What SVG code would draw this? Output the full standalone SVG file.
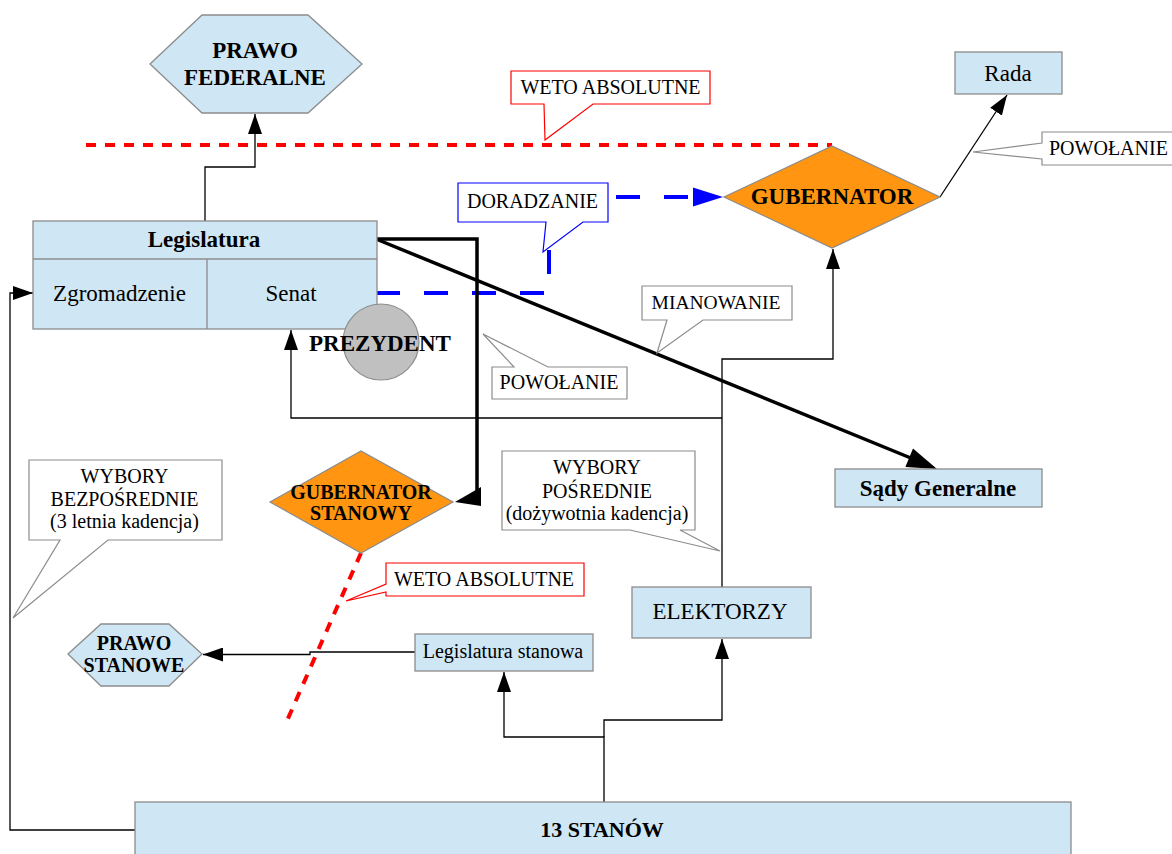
<svg xmlns="http://www.w3.org/2000/svg" width="1172" height="854" viewBox="0 0 1172 854">
  <defs>
    <style>
      .box { fill: #cfe6f4; stroke: #8c8c8c; stroke-width: 1.3; }
      .dia { fill: #ff9511; stroke: #8c8c8c; stroke-width: 1.2; }
      .t { font-family: "Liberation Serif", "Times New Roman", serif; fill: #000; text-anchor: middle; }
      .b { font-weight: bold; }
      .conn { fill: none; stroke: #000; stroke-width: 1.3; }
      .thick { fill: none; stroke: #000; stroke-width: 3.5; }
      .veto { fill: none; stroke: #ff0000; stroke-width: 4; stroke-dasharray: 10 9; }
      .adv { fill: none; stroke: #0000ff; stroke-width: 4; stroke-dasharray: 24 24; }
      .call-gray { fill: #fff; stroke: #8c8c8c; stroke-width: 1.2; }
      .call-red { fill: #fff; stroke: #ff0000; stroke-width: 1.2; }
      .call-blue { fill: #fff; stroke: #0000ff; stroke-width: 1.2; }
    </style>
    <marker id="arr" viewBox="0 0 20 14" refX="20" refY="7" markerWidth="20" markerHeight="14" markerUnits="userSpaceOnUse" orient="auto">
      <path d="M0,0 L20,7 L0,14 z" fill="#000"/>
    </marker>
    <marker id="arrBig" viewBox="0 0 30 20" refX="30" refY="10" markerWidth="30" markerHeight="20" markerUnits="userSpaceOnUse" orient="auto">
      <path d="M0,0 L30,10 L0,20 z" fill="#000"/>
    </marker>
    <marker id="arrBlue" viewBox="0 0 30 19" refX="30" refY="9.5" markerWidth="30" markerHeight="19" markerUnits="userSpaceOnUse" orient="auto">
      <path d="M0,0 L30,9.5 L0,19 z" fill="#0000ff"/>
    </marker>
  </defs>

  <rect width="1172" height="854" fill="#fff"/>

  <!-- veto boundary lines -->
  <g id="veto-lines">
    <line class="veto" x1="86" y1="145" x2="832" y2="145"/>
    <line class="veto" x1="361" y1="553" x2="286" y2="723"/>
  </g>

  <!-- connectors -->
  <g id="connectors">
    <!-- Legislatura -> Prawo federalne -->
    <path class="conn" d="M205,221 V167 H255 V114" marker-end="url(#arr)"/>
    <!-- Gubernator -> Rada -->
    <path class="conn" d="M940,197 L1007,95" marker-end="url(#arr)"/>
    <!-- Senat advising the governor -->
    <path class="adv" d="M376,293 H549 V197 H700"/>
    <path d="M693,187.5 L723,197 L693,206.5 z" fill="#0000ff"/>
    <!-- Legislatura -> Sady Generalne -->
    <path class="thick" d="M376,239 L912,458.5"/>
    <path d="M937,469 L905.4,466.9 L913,448.4 z" fill="#000"/>
    <!-- Legislatura -> Gubernator stanowy -->
    <path class="thick" d="M376,239 H477 V503"/>
    <path d="M455,502 L481,487 L481,506 z" fill="#000"/>
    <!-- Elektorzy -> Gubernator and Senat -->
    <path class="conn" d="M722,587 V359 H833 V249" marker-end="url(#arr)"/>
    <path class="conn" d="M722,418 H291 V330" marker-end="url(#arr)"/>
    <!-- 13 stanow -> Zgromadzenie -->
    <path class="conn" d="M135,830 H10 V293 H33" marker-end="url(#arr)"/>
    <!-- 13 stanow -> Legislatura stanowa / Elektorzy -->
    <path class="conn" d="M604,802 V737 H504 V672" marker-end="url(#arr)"/>
    <path class="conn" d="M604,737 V720 H722 V639" marker-end="url(#arr)"/>
    <!-- Legislatura stanowa -> Prawo stanowe -->
    <path class="conn" d="M415,652 H310 V654.5 H203" marker-end="url(#arr)"/>
  </g>

  <!-- nodes -->
  <g id="prawo-federalne">
    <polygon class="box" points="150,64 202,15 308,15 362,64 308,113 202,113"/>
    <text class="t b" x="255" y="58" font-size="23">PRAWO</text>
    <text class="t b" x="255" y="85" font-size="23">FEDERALNE</text>
  </g>

  <g id="rada">
    <rect class="box" x="955" y="52" width="107" height="42"/>
    <text class="t" x="1008" y="81" font-size="23">Rada</text>
  </g>

  <g id="gubernator">
    <polygon class="dia" points="724,197 832,146 940,197 832,248"/>
    <text class="t b" x="832" y="204" font-size="23">GUBERNATOR</text>
  </g>

  <g id="legislatura">
    <rect class="box" x="33" y="221" width="344" height="108"/>
    <line x1="33" y1="259" x2="377" y2="259" stroke="#8c8c8c" stroke-width="1.3"/>
    <line x1="207" y1="259" x2="207" y2="329" stroke="#8c8c8c" stroke-width="1.3"/>
    <text class="t b" x="204" y="247" font-size="23">Legislatura</text>
    <text class="t" x="119.5" y="301" font-size="23">Zgromadzenie</text>
    <text class="t" x="291" y="301" font-size="23">Senat</text>
  </g>

  <g id="prezydent">
    <circle cx="381" cy="342" r="38" fill="#c0c0c0" stroke="#8c8c8c" stroke-width="1.2"/>
    <text class="t b" x="380" y="351" font-size="23">PREZYDENT</text>
  </g>

  <g id="sady-generalne">
    <rect class="box" x="835" y="469" width="207" height="38"/>
    <text class="t b" x="938" y="496" font-size="23">Sądy Generalne</text>
  </g>

  <g id="gubernator-stanowy">
    <polygon class="dia" points="270,502 361,451 453,502 361,553"/>
    <text class="t b" x="361" y="499" font-size="20">GUBERNATOR</text>
    <text class="t b" x="361" y="520" font-size="20">STANOWY</text>
  </g>

  <g id="prawo-stanowe">
    <polygon class="box" points="68,654 101,624 169,624 202,654 169,686 101,686"/>
    <text class="t b" x="134" y="650" font-size="20">PRAWO</text>
    <text class="t b" x="134" y="672" font-size="20">STANOWE</text>
  </g>

  <g id="legislatura-stanowa">
    <rect class="box" x="415" y="634" width="178" height="37"/>
    <text class="t" x="503" y="658" font-size="20">Legislatura stanowa</text>
  </g>

  <g id="elektorzy">
    <rect class="box" x="632" y="587" width="179" height="51"/>
    <text class="t" x="720" y="619" font-size="23">ELEKTORZY</text>
  </g>

  <g id="stany">
    <rect class="box" x="135" y="802" width="936" height="60"/>
    <text class="t b" x="602" y="837" font-size="22">13 STANÓW</text>
  </g>

  <!-- callout labels -->
  <g id="weto-federalne">
    <path class="call-red" d="M511,71 H710 V104 H593 L545,140 L544,104 H511 Z"/>
    <text class="t" x="610.5" y="94" font-size="20">WETO ABSOLUTNE</text>
  </g>

  <g id="doradzanie">
    <path class="call-blue" d="M458,183 H608 V222 H583 L543,252 L546,222 H458 Z"/>
    <text class="t" x="532.5" y="208" font-size="20">DORADZANIE</text>
  </g>

  <g id="powolanie-rada">
    <path class="call-gray" d="M1042,132 H1180 V165 H1042 V159 L973,152 L1042,143 Z"/>
    <text class="t" x="1049" y="155" font-size="20" text-anchor="start" style="text-anchor:start">POWOŁANIE</text>
  </g>

  <g id="mianowanie">
    <path class="call-gray" d="M642,286 H792 V320 H703 L657,353 L667,320 H642 Z"/>
    <text class="t" x="716" y="309" font-size="19.5">MIANOWANIE</text>
  </g>

  <g id="powolanie-senat">
    <path class="call-gray" d="M492,367 H514 L483,334 L548,367 H627 V399 H492 Z"/>
    <text class="t" x="559" y="389" font-size="20">POWOŁANIE</text>
  </g>

  <g id="wybory-posrednie">
    <path class="call-gray" d="M502,451 H695 V530 H680 L720,551 L630,530 H502 Z"/>
    <text class="t" x="597" y="474" font-size="20">WYBORY</text>
    <text class="t" x="597" y="498" font-size="20">POŚREDNIE</text>
    <text class="t" x="597" y="520" font-size="20">(dożywotnia kadencja)</text>
  </g>

  <g id="wybory-bezposrednie">
    <path class="call-gray" d="M29,460 H222 V540 H108 L13,618 L60,540 H29 Z"/>
    <text class="t" x="124.5" y="483" font-size="20">WYBORY</text>
    <text class="t" x="124.5" y="506" font-size="20">BEZPOŚREDNIE</text>
    <text class="t" x="124.5" y="528" font-size="20">(3 letnia kadencja)</text>
  </g>

  <g id="weto-stanowe">
    <path class="call-red" d="M386,563 H584 V596 H386 V592 L346,601 L386,584 Z"/>
    <text class="t" x="484" y="586" font-size="20">WETO ABSOLUTNE</text>
  </g>
</svg>
